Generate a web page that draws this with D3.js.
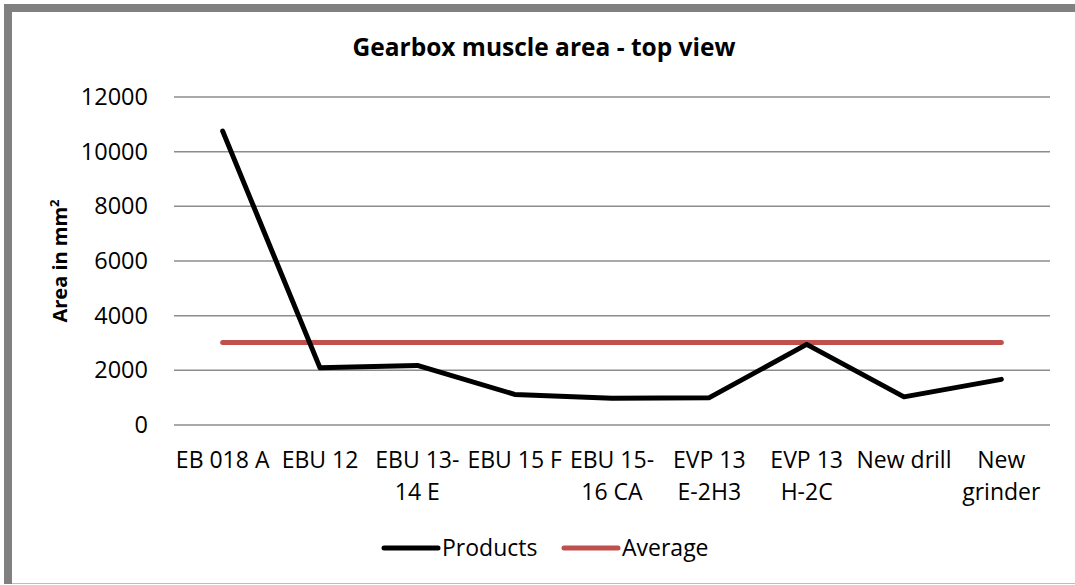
<!DOCTYPE html>
<html>
<head>
<meta charset="utf-8">
<script src="https://cdn.jsdelivr.net/npm/d3@7"></script>
<style>
    body { margin: 0; background: #fff; }
    svg text { font-family: "Open Sans", "Noto Sans", sans-serif; fill: #000; }
</style>
</head>
<body>
<div id="chart"></div>
<script>
// categories (line breaks as they wrap in the picture)
let categories = ["EB 018 A", "EBU 12", "EBU 13-\n14 E", "EBU 15 F", "EBU 15-\n16 CA",
    "EVP 13\nE-2H3", "EVP 13\nH-2C", "New drill", "New\ngrinder"];

// series values
let productValues = [10750, 2090, 2180, 1120, 975, 1000, 2950, 1030, 1670];
let averageValues = [3020, 3020, 3020, 3020, 3020, 3020, 3020, 3020, 3020];

// tick labels
let yTicks = [0, 2000, 4000, 6000, 8000, 10000, 12000];

let width = 1075, height = 585;
let margin = {top: 97, right: 25, bottom: 160, left: 174};

let svg = d3.select("#chart").append("svg")
    .attr("width", width)
    .attr("height", height);

// frame
svg.append("rect")
    .attr("x", 4).attr("y", 4)
    .attr("width", 8).attr("height", 580)
    .attr("fill", "#808080");
svg.append("rect")
    .attr("x", 4).attr("y", 4)
    .attr("width", width - 4).attr("height", 8)
    .attr("fill", "#808080");
svg.append("line")
    .attr("x1", 12).attr("x2", width)
    .attr("y1", 583.5).attr("y2", 583.5)
    .attr("stroke", "#bdbdbd")
    .attr("stroke-width", 1);

// scales
let x = d3.scaleBand()
    .domain(categories)
    .range([margin.left, width - margin.right]);

let y = d3.scaleLinear()
    .domain([0, 12000])
    .range([height - margin.bottom, margin.top]);

// gridlines
svg.append("g")
    .selectAll("line")
    .data(yTicks)
    .enter()
    .append("line")
    .attr("x1", margin.left)
    .attr("x2", width - margin.right)
    .attr("y1", d => y(d))
    .attr("y2", d => y(d))
    .attr("stroke", "#8c8c8c")
    .attr("stroke-width", 1.5);

// y axis labels
let yAxis = d3.axisLeft(y)
    .tickValues(yTicks)
    .tickSize(0)
    .tickPadding(26)
    .tickFormat(d3.format("d"));

let yAxisGroup = svg.append("g")
    .attr("transform", `translate(${margin.left}, 0)`)
    .call(yAxis);
yAxisGroup.select(".domain").remove();
yAxisGroup.selectAll("text")
    .attr("font-size", "23.5px")
    .style("font-family", "'Open Sans', sans-serif")
    .attr("fill", "#000");

// x axis labels
let xLabels = svg.append("g")
    .selectAll("text")
    .data(categories)
    .enter()
    .append("text")
    .attr("x", d => x(d) + x.bandwidth() / 2)
    .attr("y", 468)
    .attr("text-anchor", "middle")
    .attr("font-size", "23px");

xLabels.selectAll("tspan")
    .data(d => d.split("\n"))
    .enter()
    .append("tspan")
    .attr("x", function () { return d3.select(this.parentNode).attr("x"); })
    .attr("dy", (d, i) => i === 0 ? 0 : 32)
    .text(d => d);

// lines
let line = d3.line()
    .x((d, i) => x(categories[i]) + x.bandwidth() / 2)
    .y(d => y(d));

svg.append("path")
    .datum(averageValues)
    .attr("d", line)
    .attr("fill", "none")
    .attr("stroke", "#c0504d")
    .attr("stroke-width", 5)
    .attr("stroke-linecap", "round");

svg.append("path")
    .datum(productValues)
    .attr("d", line)
    .attr("fill", "none")
    .attr("stroke", "#000")
    .attr("stroke-width", 5)
    .attr("stroke-linecap", "round")
    .attr("stroke-linejoin", "round");

// title
svg.append("text")
    .attr("x", 544)
    .attr("y", 56)
    .attr("text-anchor", "middle")
    .attr("font-size", "24.5px")
    .attr("font-weight", "bold")
    .text("Gearbox muscle area - top view");

// y axis title
let yTitle = svg.append("text")
    .attr("transform", `translate(67, ${(y(0) + y(12000)) / 2}) rotate(-90)`)
    .attr("text-anchor", "middle")
    .attr("font-size", "20px")
    .attr("font-weight", "bold");
yTitle.append("tspan").text("Area in mm");
yTitle.append("tspan")
    .attr("font-size", "13px")
    .attr("dy", -8)
    .text("2");

// legend
let legendItems = [
    {name: "Products", color: "#000", x: 384},
    {name: "Average", color: "#c0504d", x: 564}
];

let legend = svg.append("g")
    .selectAll("g")
    .data(legendItems)
    .enter()
    .append("g")
    .attr("transform", d => `translate(${d.x}, 548)`);

legend.append("line")
    .attr("x1", 0).attr("x2", 54)
    .attr("y1", 0).attr("y2", 0)
    .attr("stroke", d => d.color)
    .attr("stroke-width", 5)
    .attr("stroke-linecap", "round");

legend.append("text")
    .attr("x", 58)
    .attr("y", 8)
    .attr("font-size", "23px")
    .text(d => d.name);
</script>
</body>
</html>
